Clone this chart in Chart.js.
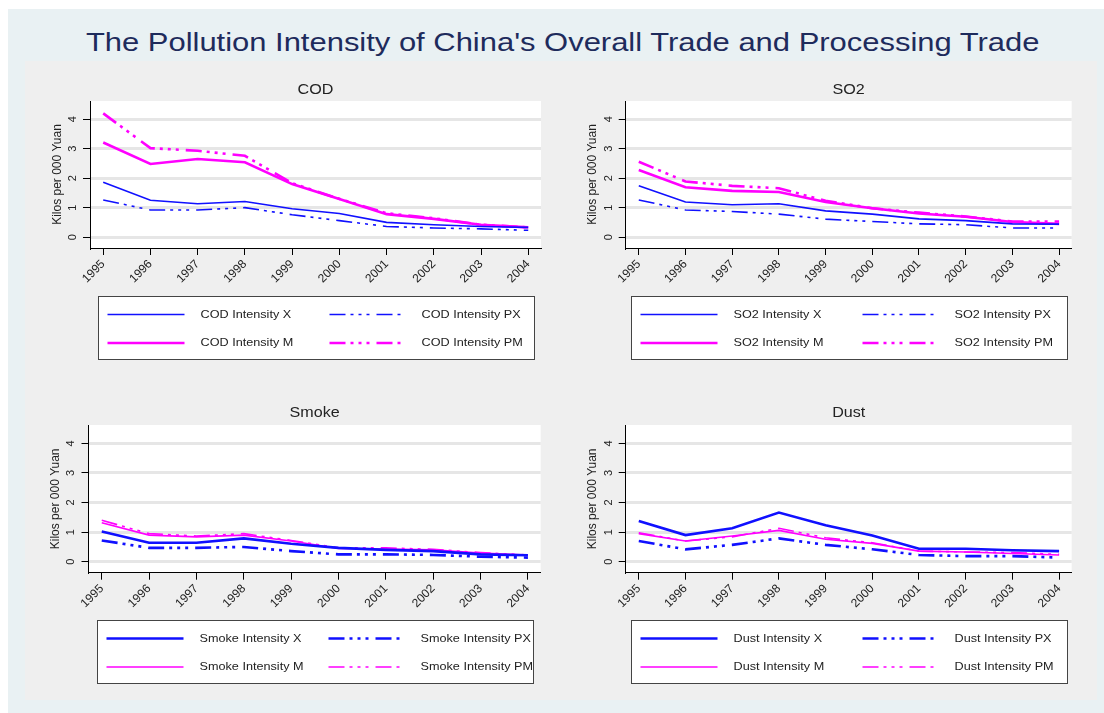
<!DOCTYPE html>
<html><head><meta charset="utf-8">
<script src="https://cdn.jsdelivr.net/npm/chart.js"></script>
<style>
html,body{margin:0;padding:0;background:#fff;width:1104px;height:713px;overflow:hidden;font-family:"Liberation Sans",Arial,sans-serif}
#outer{position:absolute;left:8px;top:9px;width:1096px;height:704px;background:#e9f1f3}
#inner{position:absolute;left:25px;top:61px;width:1072px;height:639px;background:#efefef}
#title{position:absolute;left:0;top:27px;width:1125px;text-align:center;font-size:26px;line-height:30px;color:#1e2b5c;white-space:nowrap}
#title span{display:inline-block;transform:scaleX(1.19);transform-origin:50% 50%}
.pc{position:absolute}
canvas{display:block}
</style></head><body>
<div id="outer"></div><div id="inner"></div>
<div id="title"><span>The Pollution Intensity of China's Overall Trade and Processing Trade</span></div>
<div class="pc" style="left:25px;top:61px"><canvas id="c0" width="536" height="320"></canvas></div>
<div class="pc" style="left:561px;top:61px"><canvas id="c1" width="536" height="320"></canvas></div>
<div class="pc" style="left:25px;top:381px"><canvas id="c2" width="536" height="319"></canvas></div>
<div class="pc" style="left:561px;top:381px"><canvas id="c3" width="536" height="319"></canvas></div>
<script>
// ---- data ----
const years = [1995,1996,1997,1998,1999,2000,2001,2002,2003,2004];
const yTicks = [0,1,2,3,4];
const pollutants = ["COD","SO2","Smoke","Dust"];
const seriesSuffix = ["X","PX","M","PM"];

const codX  = [1.86,1.25,1.13,1.21,0.96,0.80,0.50,0.42,0.36,0.33];
const codPX = [1.26,0.92,0.92,1.00,0.76,0.56,0.36,0.31,0.28,0.23];
const codM  = [3.21,2.48,2.65,2.54,1.80,1.29,0.78,0.62,0.42,0.33];
const codPM = [4.20,3.02,2.93,2.76,1.83,1.30,0.81,0.64,0.42,0.33];

const so2X  = [1.74,1.19,1.10,1.13,0.89,0.78,0.62,0.56,0.45,0.44];
const so2PX = [1.26,0.92,0.87,0.78,0.61,0.53,0.45,0.42,0.31,0.31];
const so2M  = [2.28,1.69,1.57,1.53,1.19,0.98,0.80,0.69,0.51,0.45];
const so2PM = [2.56,1.89,1.74,1.66,1.23,0.98,0.83,0.70,0.53,0.53];

const smokeX  = [1.02,0.64,0.64,0.79,0.61,0.47,0.40,0.36,0.25,0.22];
const smokePX = [0.72,0.47,0.47,0.50,0.36,0.25,0.25,0.23,0.17,0.14];
const smokeM  = [1.32,0.90,0.84,0.90,0.70,0.45,0.43,0.40,0.29,0.23];
const smokePM = [1.40,0.95,0.87,0.95,0.72,0.47,0.47,0.42,0.31,0.23];

const dustX  = [1.38,0.90,1.13,1.66,1.23,0.89,0.44,0.44,0.39,0.36];
const dustPX = [0.70,0.42,0.57,0.79,0.57,0.42,0.23,0.19,0.19,0.14];
const dustM  = [0.95,0.70,0.87,1.06,0.76,0.62,0.36,0.33,0.28,0.23];
const dustPM = [0.98,0.70,0.84,1.13,0.81,0.64,0.36,0.33,0.31,0.25];

const panelData = [
  [codX, codPX, codM, codPM],
  [so2X, so2PX, so2M, so2PM],
  [smokeX, smokePX, smokeM, smokePM],
  [dustX, dustPX, dustM, dustPM]
];

// ---- styles / layout ----
const BLUE = '#1010ff', MAG = '#ff00ff';
const DASH = [16,5,3,5,3,5,3,7];
const THICK = 2.6, THIN = 1.6;
const widths = [
  [THIN, THIN, THICK, THICK],
  [THIN, THIN, THICK, THICK],
  [THICK, THICK, THIN, THIN],
  [THICK, THICK, THIN, THIN]
];
// chart area in canvas coords: left, right, top, bottom
const areas = [
  {l:65, r:516, t:40, b:187, h:320},
  {l:64.7, r:510.7, t:40, b:187, h:320},
  {l:63.5, r:515.7, t:44, b:191.7, h:319},
  {l:64.7, r:510.7, t:44, b:191.7, h:319}
];
const W = 536, YW = 43, XH = 40;
const FONT = '"Liberation Sans", Arial, sans-serif';

Chart.defaults.font.family = FONT;
Chart.defaults.color = '#222';

function wideText(ctx, txt, x, y, sx) {
  ctx.save();
  ctx.translate(x, y);
  ctx.scale(sx, 1);
  ctx.fillText(txt, 0, 0);
  ctx.restore();
}

const panelPlugin = {
  id: 'panelDeco',
  beforeDraw(chart) {
    const {ctx, chartArea: ca} = chart;
    ctx.save();
    ctx.fillStyle = '#fff';
    ctx.fillRect(ca.left, ca.top, ca.right - ca.left, ca.bottom - ca.top);
    ctx.restore();
  },
  afterDraw(chart, args, opts) {
    const {ctx, chartArea: ca} = chart;
    const cx = (ca.left + ca.right) / 2;
    ctx.save();
    // panel title
    ctx.fillStyle = '#222';
    ctx.font = '14px ' + FONT;
    ctx.textAlign = 'center';
    ctx.textBaseline = 'middle';
    wideText(ctx, opts.title, cx, ca.top - opts.titleGap, 1.15);
    // legend box
    const bw = 436, bh = 63;
    const bx = Math.round(cx - bw / 2) + 0.5, by = Math.round(ca.bottom + 47.5) + 0.5;
    ctx.fillStyle = '#fff';
    ctx.fillRect(bx, by, bw, bh);
    ctx.strokeStyle = '#444';
    ctx.lineWidth = 1;
    ctx.strokeRect(bx, by, bw, bh);
    ctx.font = '11.5px ' + FONT;
    ctx.textAlign = 'left';
    chart.data.datasets.forEach((ds, i) => {
      const col = i % 2, row = Math.floor(i / 2);
      const y = by + (row ? 46.5 : 18);
      const x0 = bx + (col ? 231 : 9), x1 = bx + (col ? 306 : 86);
      ctx.save();
      ctx.strokeStyle = ds.borderColor;
      ctx.lineWidth = ds.borderWidth;
      ctx.setLineDash(ds.borderDash || []);
      ctx.beginPath(); ctx.moveTo(x0, y); ctx.lineTo(x1, y); ctx.stroke();
      ctx.restore();
      ctx.fillStyle = '#222';
      wideText(ctx, ds.label, bx + (col ? 323 : 102), y, 1.1);
    });
    ctx.restore();
  }
};

pollutants.forEach((p, k) => {
  const a = areas[k];
  const datasets = panelData[k].map((arr, i) => ({
    label: p + ' Intensity ' + seriesSuffix[i],
    data: years.map((yr, j) => ({x: yr, y: arr[j]})),
    borderColor: i < 2 ? BLUE : MAG,
    borderWidth: widths[k][i],
    borderDash: (i % 2) ? DASH : [],
    pointRadius: 0,
    tension: 0,
    fill: false
  }));
  new Chart(document.getElementById('c' + k), {
    type: 'line',
    data: {datasets},
    plugins: [panelPlugin],
    options: {
      responsive: false,
      animation: false,
      events: [],
      layout: {padding: {left: a.l - YW, right: W - a.r, top: a.t, bottom: a.h - a.b - XH}},
      plugins: {
        legend: {display: false},
        tooltip: {enabled: false},
        title: {display: false},
        panelDeco: {title: p, titleGap: k < 2 ? 11 : 12.3}
      },
      scales: {
        x: {
          type: 'linear',
          min: 1994.72, max: 2004.27,
          afterBuildTicks: s => { s.ticks = years.map(v => ({value: v})); },
          afterFit: s => { s.height = XH; },
          grid: {drawOnChartArea: false, drawTicks: true, tickLength: 7, tickColor: '#000', tickWidth: 1},
          border: {display: true, color: '#000', width: 1},
          ticks: {minRotation: 45, maxRotation: 45, padding: 2, autoSkip: false,
                  font: {size: 12}, color: '#222', callback: v => String(v)}
        },
        y: {
          type: 'linear',
          min: -0.37, max: 4.62,
          afterBuildTicks: s => { s.ticks = yTicks.map(v => ({value: v})); },
          afterFit: s => { s.width = YW; },
          grid: {color: '#e6e6e6', lineWidth: 3, drawTicks: true, tickLength: 7, tickColor: '#000', tickWidth: 1},
          border: {display: true, color: '#000', width: 1},
          ticks: {minRotation: 90, maxRotation: 90, crossAlign: 'center', padding: 7,
                  font: {size: 11}, color: '#222', callback: v => String(v)},
          title: {display: true, text: 'Kilos per 000 Yuan', font: {size: 12}, color: '#222', padding: {top: 3, bottom: 0}}
        }
      }
    }
  });
});
</script>
</body></html>
